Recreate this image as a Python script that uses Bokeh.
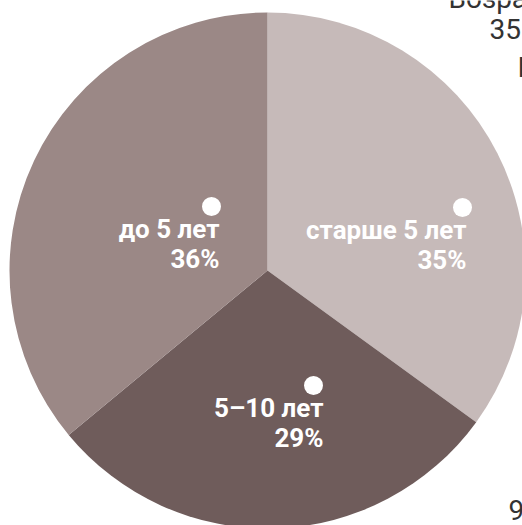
from math import pi
from bokeh.plotting import figure
from bokeh.models import Range1d, ColumnDataSource
from bokeh.core.properties import value
from bokeh.embed import file_html
from bokeh.resources import INLINE

# ---- data ----
categories = ["старше 5 лет", "5–10 лет", "до 5 лет"]
shares = [35, 29, 36]
pct_labels = ["35%", "29%", "36%"]
colors = ["#c6bab9", "#6f5c5b", "#9b8886"]

# layout (page pixel coordinates)
W, H = 522, 525
cx, cy, R = 267, 270, 258
# label anchor (dot centre) per slice and label right edge, page pixels
dot_x = [462, 313, 211]
dot_y = [207, 385, 206]
label_right = [466, 323, 219]
BASE_FIX = 9  # renderer baseline compensation

def fy(y):
    return H - y

p = figure(width=W, height=H, output_backend="svg", toolbar_location=None,
           x_range=Range1d(0, W), y_range=Range1d(0, H),
           min_border=0, min_border_left=0, min_border_right=0,
           min_border_top=0, min_border_bottom=0,
           styles={"position": "absolute", "left": "0px", "top": "0px"})
p.axis.visible = False
p.grid.visible = False
p.outline_line_color = None
p.background_fill_color = "white"
p.border_fill_color = "white"

total = sum(shares)
starts, ends = [], []
cum = 0.0
for s in shares:
    a0 = pi / 2 - 2 * pi * (cum + s) / total
    a1 = pi / 2 - 2 * pi * cum / total
    starts.append(a0)
    ends.append(a1)
    cum += s

src = ColumnDataSource(dict(start=starts, end=ends, color=colors))
p.wedge(x=cx, y=fy(cy), radius=R, start_angle="start", end_angle="end",
        fill_color="color", line_color=None, source=src)

# dots
p.scatter(x=dot_x, y=[fy(v) for v in dot_y], size=19, marker="circle",
          fill_color="white", line_color=None)

# labels
lab = ColumnDataSource(dict(
    x=label_right,
    y1=[fy(dy + 31 - BASE_FIX) for dy in dot_y],
    y2=[fy(dy + 61 - BASE_FIX) for dy in dot_y],
    cat=categories, pct=pct_labels))
for col, ycol in (("cat", "y1"), ("pct", "y2")):
    p.text(x="x", y=ycol, text=col, source=lab, text_color="white",
           text_font=value("Roboto"), text_font_style="bold",
           text_font_size="26px", text_align="right",
           text_baseline="alphabetic")

# cut-off texts at the right edge
side_text = ["Возраст", "35", "Г", "9"]
side_x = [448, 489, 517, 508]
side_y = [7, 37, 76, 518]
p.text(x=side_x, y=[fy(v - BASE_FIX) for v in side_y], text=side_text,
       text_color="#333333", text_font=value("Roboto"),
       text_font_size="28px", text_align="left", text_baseline="alphabetic")

open("out.html", "w").write(file_html(p, INLINE))
